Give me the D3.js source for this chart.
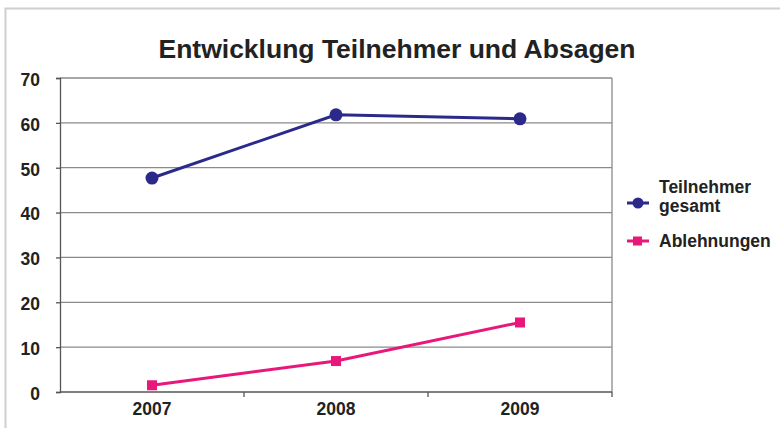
<!DOCTYPE html>
<html lang="de">
<head>
	<meta charset="UTF-8">
	<title>Entwicklung Teilnehmer und Absagen</title>
	<script src="https://cdn.jsdelivr.net/npm/d3@7/dist/d3.min.js"></script>
	<style>
		html, body { margin: 0; padding: 0; background: #fff; }
		svg text { font-family: "Liberation Sans", Arial, sans-serif; font-weight: bold; fill: #222; }
	</style>
</head>
<body>
<div id="viz"></div>
<script>
	var years = ['2007', '2008', '2009'];
	var teilnehmer = [47.7, 61.8, 60.9];
	var ablehnungen = [1.5, 6.9, 15.5];
	var yTicks = [0, 10, 20, 30, 40, 50, 60, 70];
	var seriesNames = ['Teilnehmer gesamt', 'Ablehnungen'];

	var W = 780, H = 428;
	var margin = {top: 78, left: 60, bottom: 36, right: 168};
	var width = 612 - margin.left;
	var height = 392 - margin.top;

	var navy = '#2b2a8b', pink = '#e8187b', grid = '#8a8a8a';

	var svg = d3.select('#viz').append('svg')
		.attr('width', W).attr('height', H);

	// outer frame (top + left only)
	svg.append('path')
		.attr('d', 'M5.5,' + H + 'V8.5H' + W)
		.attr('fill', 'none').attr('stroke', '#cfcfcf').attr('stroke-width', 2);

	svg.append('text')
		.attr('x', 397).attr('y', 58)
		.attr('text-anchor', 'middle')
		.style('font-size', '26.5px')
		.text('Entwicklung Teilnehmer und Absagen');

	var g = svg.append('g')
		.attr('transform', 'translate(' + margin.left + ',' + margin.top + ')');

	var x = d3.scaleBand().domain(years).range([0, width]);
	var y = d3.scaleLinear().domain([0, 70]).range([height, 0]);

	// grid lines
	g.selectAll('.grid').data(yTicks.slice(1)).enter().append('line')
		.attr('x1', 0).attr('x2', width)
		.attr('y1', function (d) { return y(d); })
		.attr('y2', function (d) { return y(d); })
		.attr('stroke', grid).attr('stroke-width', 1.3);

	// right border of plot
	g.append('line')
		.attr('x1', width).attr('x2', width)
		.attr('y1', 0).attr('y2', height)
		.attr('stroke', grid).attr('stroke-width', 1.3);

	var yAxis = d3.axisLeft(y).tickValues(yTicks).tickSize(4).tickPadding(16);
	var gy = g.append('g').call(yAxis);
	gy.select('.domain').attr('stroke', '#555').attr('stroke-width', 1.3);
	gy.selectAll('.tick line').attr('stroke', '#555').attr('stroke-width', 1.3);
	gy.selectAll('.tick text').style('font-size', '17.5px').attr('dy', '0.42em');

	var xAxis = d3.axisBottom(x).tickSize(0).tickPadding(11);
	var gx = g.append('g').attr('transform', 'translate(0,' + height + ')').call(xAxis);
	gx.select('.domain').attr('d', 'M0,0H' + width).attr('stroke', '#555').attr('stroke-width', 1.3);
	gx.selectAll('.tick text').style('font-size', '17.5px');

	// category separator ticks
	g.selectAll('.sep').data(years.slice(1).concat(['end'])).enter().append('line')
		.attr('x1', function (d, i) { return x.step() * (i + 1); })
		.attr('x2', function (d, i) { return x.step() * (i + 1); })
		.attr('y1', height).attr('y2', height + 5)
		.attr('stroke', '#555').attr('stroke-width', 1.3);

	var cx = function (d, i) { return x(years[i]) + x.bandwidth() / 2; };

	var line = d3.line()
		.x(function (d, i) { return cx(d, i); })
		.y(function (d) { return y(d); });

	g.append('path').datum(teilnehmer)
		.attr('d', line).attr('fill', 'none')
		.attr('stroke', navy).attr('stroke-width', 3);
	g.selectAll('.dot').data(teilnehmer).enter().append('circle')
		.attr('cx', cx).attr('cy', function (d) { return y(d); })
		.attr('r', 6.5).attr('fill', navy);

	g.append('path').datum(ablehnungen)
		.attr('d', line).attr('fill', 'none')
		.attr('stroke', pink).attr('stroke-width', 3);
	g.selectAll('.sq').data(ablehnungen).enter().append('rect')
		.attr('x', function (d, i) { return cx(d, i) - 5; })
		.attr('y', function (d) { return y(d) - 5; })
		.attr('width', 10).attr('height', 10).attr('fill', pink);

	// legend
	var lg = svg.append('g');
	var l1 = lg.append('g').attr('transform', 'translate(627,203)');
	l1.append('line').attr('x1', 0).attr('x2', 22).attr('stroke', navy).attr('stroke-width', 3);
	l1.append('circle').attr('cx', 11).attr('r', 5.5).attr('fill', navy);
	var t1 = l1.append('text').attr('x', 32).style('font-size', '17.5px');
	t1.append('tspan').attr('x', 32).attr('y', -10).text(seriesNames[0].split(' ')[0]);
	t1.append('tspan').attr('x', 32).attr('y', 9).text(seriesNames[0].split(' ')[1]);

	var l2 = lg.append('g').attr('transform', 'translate(627,241)');
	l2.append('line').attr('x1', 0).attr('x2', 22).attr('stroke', pink).attr('stroke-width', 3);
	l2.append('rect').attr('x', 6).attr('y', -4.5).attr('width', 9).attr('height', 9).attr('fill', pink);
	l2.append('text').attr('x', 32).attr('y', 6).style('font-size', '17.5px').text(seriesNames[1]);
</script>
</body>
</html>
